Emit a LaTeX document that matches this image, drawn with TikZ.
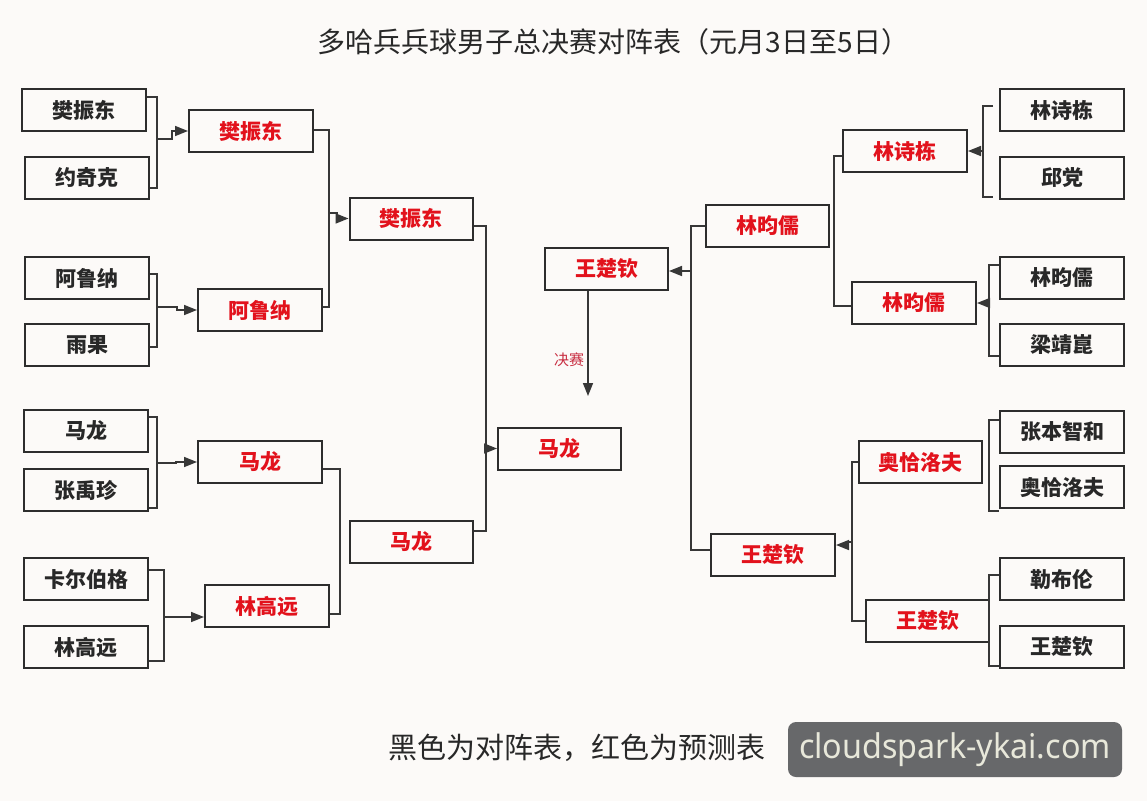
\documentclass[tikz,border=0pt]{standalone}
\usepackage{fontspec}
\newfontfamily\cjk{Noto Sans CJK SC}
\newfontfamily\wmfont{Noto Sans}
\usetikzlibrary{arrows.meta}
\definecolor{bg}{RGB}{252,250,248}
\definecolor{boxc}{RGB}{45,45,45}
\definecolor{linec}{RGB}{55,55,55}
\definecolor{txt}{RGB}{40,40,40}
\definecolor{red1}{RGB}{226,18,28}
\definecolor{lbl}{RGB}{200,45,65}
\definecolor{wmbg}{RGB}{103,104,106}
\definecolor{wmtx}{RGB}{232,232,218}
\tikzset{
  box/.style={draw=boxc, line width=2pt, fill=bg, minimum width=124pt, minimum height=42pt, inner sep=0pt, font=\cjk\bfseries\fontsize{21}{21}\selectfont},
  bk/.style={box, text=txt},
  rd/.style={box, text=red1},
  ln/.style={draw=linec, line width=1.6pt},
  arr/.style={ln, -{Triangle[length=13pt,width=10pt]}},
}
\begin{document}
\begin{tikzpicture}[x=1pt,y=-1pt]
\fill[bg] (0,0) rectangle (1147,801);
\useasboundingbox (0,0) rectangle (1147,801);

% title
\node[font=\cjk\fontsize{28}{28}\selectfont, text=txt] (title) at (613.5,42) {多哈兵兵球男子总决赛对阵表（元月3日至5日）};

% left first round
\node[bk] (L1) at (84,110) {樊振东};
\node[bk] (L2) at (87,178) {约奇克};
\node[bk] (L3) at (87,278) {阿鲁纳};
\node[bk] (L4) at (87,344.5) {雨果};
\node[bk] (L5) at (86,431) {马龙};
\node[bk] (L6) at (86,490) {张禹珍};
\node[bk] (L7) at (86,579) {卡尔伯格};
\node[bk] (L8) at (86,647) {林高远};
% left second round
\node[rd] (LA) at (251,131) {樊振东};
\node[rd] (LB) at (260,310) {阿鲁纳};
\node[rd] (LC) at (260,462) {马龙};
\node[rd] (LD) at (267,606) {林高远};
% left third round
\node[rd, minimum width=123pt] (LX) at (411,218.5) {樊振东};
\node[rd, minimum width=123pt] (LY) at (411.5,541.5) {马龙};
% centre
\node[rd, minimum width=123pt] (M) at (559.5,448.5) {马龙};
\node[rd, minimum width=123pt] (W) at (606.5,269) {王楚钦};
% right first round
\node[bk] (R1) at (1062,110) {林诗栋};
\node[bk] (R2) at (1062,178) {邱党};
\node[bk] (R3) at (1062,278) {林昀儒};
\node[bk] (R4) at (1062,344.5) {梁靖崑};
\node[bk] (R5) at (1062,431.5) {张本智和};
\node[bk] (R6) at (1062,487) {奥恰洛夫};
\node[bk] (R7) at (1062,579) {勒布伦};
\node[bk] (R8) at (1062,647) {王楚钦};
% right second round
\node[rd] (RA) at (905,151) {林诗栋};
\node[rd] (RB) at (914,303) {林昀儒};
\node[rd, minimum width=123pt] (RC) at (920.5,462) {奥恰洛夫};
\node[rd, minimum width=123pt] (RD) at (927.5,620.5) {王楚钦};
% right third round
\node[rd, minimum width=123pt] (RX) at (767.5,225.5) {林昀儒};
\node[rd] (RY) at (773,554.5) {王楚钦};

% ---- left connectors
\draw[ln] (L1.east |- 0,97) -- (157,97) -- (157,188) -- (L2.east |- 0,188);
\draw[arr] (157,139) -- (172,139) -- (172,131) -- (LA.west);
\draw[ln] (L3.east |- 0,274) -- (157,274) -- (157,347) -- (L4.east |- 0,347);
\draw[arr] (157,307) -- (177,307) -- (177,310) -- (LB.west);
\draw[ln] (LA.east |- 0,130) -- (329,130) -- (329,307) -- (LB.east |- 0,307);
\draw[arr] (329,213) -- (337,213) -- (337,218.5) -- (LX.west);
\draw[ln] (LX.east |- 0,226) -- (486,226) -- (486,531) -- (LY.east |- 0,531);
\draw[arr] (486,448.5) -- (M.west);

\draw[ln] (L5.east |- 0,417) -- (157,417) -- (157,508) -- (L6.east |- 0,508);
\draw[arr] (157,463) -- (176,463) -- (176,462) -- (LC.west);
\draw[ln] (L7.east |- 0,570) -- (164,570) -- (164,661) -- (L8.east |- 0,661);
\draw[arr] (164,617) -- (LD.west |- 0,617);
\draw[ln] (LC.east |- 0,469) -- (340,469) -- (340,614) -- (LD.east |- 0,614);

% ---- centre
\coordinate (F) at (588,396);
\draw[arr] (W.south -| F) -- (F);
\node[font=\cjk\fontsize{15}{15}\selectfont, text=lbl] (lab) at (569,360) {决赛};

% ---- right connectors
\draw[ln] (993,106) -- (983,106) -- (983,197) -- (993,197);
\draw[arr] (983,151) -- (RA.east);
\draw[ln] (R3.west |- 0,265) -- (989,265) -- (989,356) -- (R4.west |- 0,356);
\draw[arr] (989,303) -- (RB.east);
\draw[ln] (RA.west |- 0,156) -- (834,156) -- (834,306) -- (RB.west |- 0,306);
\draw[ln] (RX.west |- 0,226) -- (691,226) -- (691,550) -- (RY.west |- 0,550);
\draw[arr] (691,271) -- (W.east |- 0,271);

\draw[ln] (R5.west |- 0,420) -- (989,420) -- (989,511) -- (R6.west |- 0,511);
\draw[ln] (R7.west |- 0,575) -- (989,575) -- (989,666) -- (R8.west |- 0,666);
\draw[ln] (RC.west |- 0,462) -- (852,462) -- (852,621) -- (RD.west |- 0,621);
\draw[arr] (852,542) -- (847,542) -- (847,545) -- (RY.east |- 0,545);

% ---- footer
\node[font=\cjk\fontsize{29}{29}\selectfont, text=txt] (foot) at (576.5,748) {黑色为对阵表，红色为预测表};
\node[fill=wmbg, rounded corners=8pt, minimum width=334pt, minimum height=55pt, inner sep=0pt, text=wmtx, font=\wmfont\fontsize{34}{34}\selectfont] (wm) at (955,749.5) {\scalebox{0.95}[1]{cloudspark-ykai.com}};
\end{tikzpicture}
\end{document}
